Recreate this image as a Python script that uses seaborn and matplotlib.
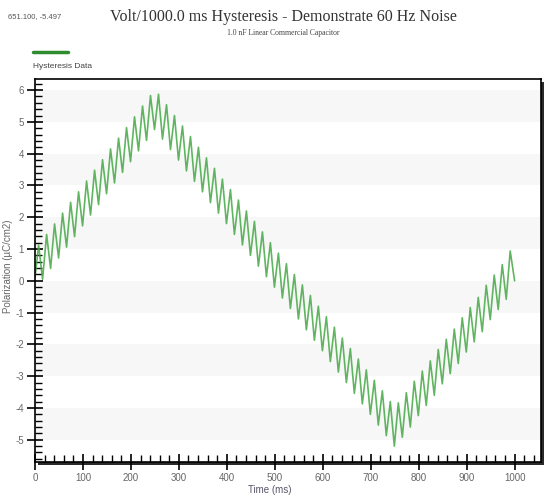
import matplotlib
matplotlib.use("Agg")
import matplotlib.pyplot as plt
from matplotlib.lines import Line2D
from matplotlib.patches import Rectangle
from matplotlib.ticker import MultipleLocator
import seaborn as sns

# sampled extremes of the 60 Hz ripple on top of the triangle sweep
time_ms = [0.0, 7.5, 15.8, 24.2, 32.5, 40.8, 49.2, 57.5, 65.8, 74.2, 82.5,
           90.8, 99.2, 107.5, 115.8, 124.2, 132.5, 140.8, 149.2, 157.5, 165.8,
           174.2, 182.5, 190.8, 199.2, 207.5, 215.8, 224.2, 232.5, 240.8, 249.2,
           257.5, 265.8, 274.2, 282.5, 290.8, 299.2, 307.5, 315.8, 324.2, 332.5,
           340.8, 349.2, 357.5, 365.8, 374.2, 382.5, 390.8, 399.2, 407.5, 415.8,
           424.2, 432.5, 440.8, 449.2, 457.5, 465.8, 474.2, 482.5, 490.8, 499.2,
           507.5, 515.8, 524.2, 532.5, 540.8, 549.2, 557.5, 565.8, 574.2, 582.5,
           590.8, 599.2, 607.5, 615.8, 624.2, 632.5, 640.8, 649.2, 657.5, 665.8,
           674.2, 682.5, 690.8, 699.2, 707.5, 715.8, 724.2, 732.5, 740.8, 749.2,
           757.5, 765.8, 774.2, 782.5, 790.8, 799.2, 807.5, 815.8, 824.2, 832.5,
           840.8, 849.2, 857.5, 865.8, 874.2, 882.5, 890.8, 899.2, 907.5, 915.8,
           924.2, 932.5, 940.8, 949.2, 957.5, 965.8, 974.2, 982.5, 990.8, 1000.0]
polarization = [0.10, 1.12, 0.05, 1.46, 0.39, 1.79, 0.72, 2.13, 1.06, 2.47, 1.39,
                2.80, 1.73, 3.14, 2.07, 3.48, 2.40, 3.81, 2.74, 4.15, 3.08,
                4.49, 3.41, 4.82, 3.75, 5.16, 4.09, 5.50, 4.42, 5.83, 4.76,
                5.87, 4.46, 5.54, 4.13, 5.20, 3.80, 4.87, 3.46, 4.54, 3.13,
                4.20, 2.80, 3.87, 2.46, 3.54, 2.13, 3.20, 1.80, 2.87, 1.46,
                2.54, 1.13, 2.20, 0.80, 1.87, 0.46, 1.54, 0.13, 1.20, -0.20,
                0.87, -0.54, 0.54, -0.87, 0.20, -1.20, -0.13, -1.54, -0.46, -1.87,
                -0.80, -2.20, -1.13, -2.54, -1.46, -2.87, -1.80, -3.20, -2.13, -3.54,
                -2.46, -3.87, -2.80, -4.20, -3.13, -4.54, -3.46, -4.87, -3.80, -5.20,
                -3.84, -4.92, -3.52, -4.60, -3.16, -4.24, -2.84, -3.92, -2.52, -3.60,
                -2.16, -3.24, -1.84, -2.92, -1.52, -2.60, -1.16, -2.24, -0.84, -1.92,
                -0.52, -1.60, -0.14, -1.22, 0.18, -0.90, 0.51, -0.58, 0.94, 0.00]

x_ticks = [0, 100, 200, 300, 400, 500, 600, 700, 800, 900, 1000]
y_ticks = [-5, -4, -3, -2, -1, 0, 1, 2, 3, 4, 5, 6]
band_starts = [-5, -3, -1, 1, 3, 5]

sns.set_style("white")
plt.rcParams["font.family"] = ["Liberation Sans", "DejaVu Sans"]
plt.rcParams["axes.unicode_minus"] = False

W, H = 557, 497
fig = plt.figure(figsize=(W / 100, H / 100), dpi=100)
left, right, top, bottom = 35, 541, 79, 462
ax = fig.add_axes([left / W, 1 - bottom / H, (right - left) / W, (bottom - top) / H])

# drop shadow behind the frame
shadow = Rectangle(((left + 3) / W, 1 - (bottom + 3) / H), (right - left) / W, (bottom - top) / H,
                   transform=fig.transFigure, facecolor="#2a2a2a", edgecolor="none", zorder=0)
fig.patches.append(shadow)
ax.set_zorder(1)

for b in band_starts:
    ax.axhspan(b, b + 1, color="#f7f7f7", lw=0, zorder=0)

sns.lineplot(x=time_ms, y=polarization, ax=ax, color="#45a845", linewidth=1.2,
             alpha=0.85, estimator=None, sort=False)

ax.set_xlim(0, 1055)
ax.set_ylim(-5.7, 6.35)
ax.set_xticks(x_ticks)
ax.set_yticks(y_ticks)
ax.xaxis.set_minor_locator(MultipleLocator(20))
ax.yaxis.set_minor_locator(MultipleLocator(0.2))
ax.tick_params(which="major", direction="inout", length=12, width=1.2, color="black",
               labelsize=7, labelcolor="#666666", pad=2)
ax.tick_params(which="minor", direction="in", length=5, width=1.0, color="black")
ax.tick_params(axis="x", which="both", bottom=True, top=False)
ax.tick_params(axis="y", which="both", left=True, right=False)
for s in ax.spines.values():
    s.set_color("black")
    s.set_linewidth(1.2)
ax.set_xlabel("")
ax.set_ylabel("")

fig.text(270 / W, 1 - 490 / H, "Time (ms)", ha="center", va="center",
         fontsize=7, color="#55556a")
fig.text(8 / W, 1 - 266 / H, "Polarization (µC/cm2)", ha="center", va="center",
         rotation=90, fontsize=7, color="#666666")

fig.text(8 / W, 1 - 17 / H, "651.100, -5.497", ha="left", va="center",
         fontsize=5.5, color="#555555")
fig.text(283 / W, 1 - 17 / H, "Volt/1000.0 ms Hysteresis - Demonstrate 60 Hz Noise",
         ha="center", va="center", fontsize=11.5, family=["Liberation Serif"], color="#333333")
fig.text(283 / W, 1 - 33 / H, "1.0 nF Linear Commercial Capacitor",
         ha="center", va="center", fontsize=5.5, family=["Liberation Serif"], color="#444444")

# legend: swatch above the label
fig.add_artist(Line2D([33 / W, 68 / W], [1 - 52 / H, 1 - 52 / H], transform=fig.transFigure,
                      color="#2e8b2e", linewidth=2.5))
fig.text(33 / W, 1 - 66 / H, "Hysteresis Data", ha="left", va="center",
         fontsize=6, color="#444444")

fig.savefig("out.png", dpi=100, facecolor="white")
